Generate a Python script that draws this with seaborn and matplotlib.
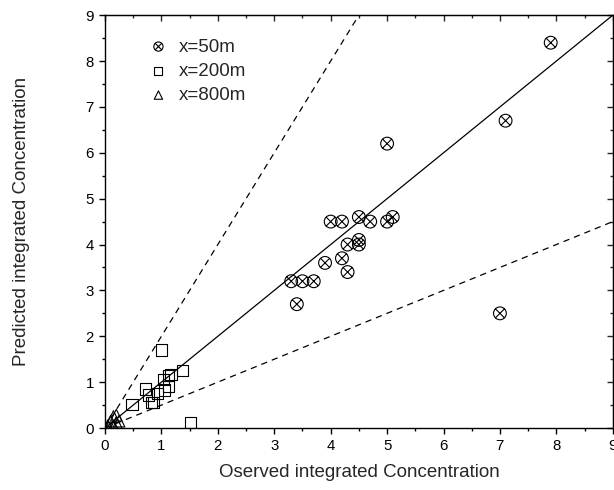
import numpy as np
import pandas as pd
import matplotlib
matplotlib.use("Agg")
import matplotlib.pyplot as plt
from matplotlib.path import Path
from matplotlib.ticker import MultipleLocator
import seaborn as sns

obs_50 = [3.3, 3.5, 3.7, 3.4, 3.9, 4.0, 4.2, 4.2, 4.3, 4.3, 4.5, 4.5, 4.5, 4.7, 5.0, 5.1, 5.0, 7.1, 7.9, 7.0]
pred_50 = [3.2, 3.2, 3.2, 2.7, 3.6, 4.5, 4.5, 3.7, 3.4, 4.0, 4.0, 4.1, 4.6, 4.5, 4.5, 4.6, 6.2, 6.7, 8.4, 2.5]

obs_200 = [1.0, 1.37, 1.17, 1.12, 1.03, 1.12, 1.05, 0.72, 0.93, 0.77, 0.86, 0.83, 0.48, 1.52]
pred_200 = [1.7, 1.25, 1.17, 1.15, 1.06, 0.9, 0.83, 0.85, 0.76, 0.72, 0.56, 0.55, 0.52, 0.12]

obs_800 = [0.05, 0.1, 0.15, 0.2, 0.2, 0.25, 0.15]
pred_800 = [0.05, 0.15, 0.25, 0.28, 0.12, 0.15, 0.05]

line_x = [0, 9]

sns.set_style("ticks")
plt.rcParams["font.family"] = ["Liberation Sans", "DejaVu Sans"]

# circle with a cross inside
circ = Path.unit_circle()
d = 0.707
cross = Path([(-d, -d), (d, d), (-d, d), (d, -d)],
             [Path.MOVETO, Path.LINETO, Path.MOVETO, Path.LINETO])
circ_x = Path.make_compound_path(circ, cross)

fig = plt.figure(figsize=(6.14, 4.9), dpi=100)
ax = fig.add_axes([0.171, 0.1265, 0.827, 0.8425])

df50 = pd.DataFrame({"obs": obs_50, "pred": pred_50})
df200 = pd.DataFrame({"obs": obs_200, "pred": pred_200})
df800 = pd.DataFrame({"obs": obs_800, "pred": pred_800})

sns.scatterplot(data=df50, x="obs", y="pred", ax=ax, marker=circ_x, s=85,
                facecolor="none", edgecolor="black", linewidth=0.8, label="x=50m", zorder=3)
sns.scatterplot(data=df200, x="obs", y="pred", ax=ax, marker="s", s=65,
                facecolor="none", edgecolor="black", linewidth=0.8, label="x=200m", zorder=3)
sns.scatterplot(data=df800, x="obs", y="pred", ax=ax, marker="^", s=70,
                facecolor="none", edgecolor="black", linewidth=0.8, label="x=800m", zorder=3)

lx = np.array(line_x)
ax.plot(lx, lx, color="black", lw=0.9)
ax.plot(lx, 2 * lx, color="black", lw=0.9, ls=(0, (5, 4)))
ax.plot(lx, 0.5 * lx, color="black", lw=0.9, ls=(0, (5, 4)))

ax.set_xlim(0, 9)
ax.set_ylim(0, 9)
ax.xaxis.set_major_locator(MultipleLocator(1))
ax.yaxis.set_major_locator(MultipleLocator(1))
ax.xaxis.set_minor_locator(MultipleLocator(0.5))
ax.yaxis.set_minor_locator(MultipleLocator(0.5))

for s in ax.spines.values():
    s.set_visible(True)
    s.set_linewidth(1.0)
    s.set_color("black")

ax.tick_params(axis="both", which="both", colors="black", labelsize=10.8, width=1.0)
ax.tick_params(which="major", length=4.5)
ax.tick_params(which="minor", length=2.5)
ax.tick_params(axis="x", which="both", direction="out", top=False)
ax.tick_params(axis="y", which="both", direction="out", right=False)

# inward ticks on top and right
sec_x = ax.secondary_xaxis("top")
sec_x.xaxis.set_major_locator(MultipleLocator(1))
sec_x.xaxis.set_minor_locator(MultipleLocator(0.5))
sec_x.tick_params(which="both", direction="in", labeltop=False, width=1.0)
sec_x.tick_params(which="major", length=4.5)
sec_x.tick_params(which="minor", length=2.5)
sec_y = ax.secondary_yaxis("right")
sec_y.yaxis.set_major_locator(MultipleLocator(1))
sec_y.yaxis.set_minor_locator(MultipleLocator(0.5))
sec_y.tick_params(which="both", direction="in", labelright=False, width=1.0)
sec_y.tick_params(which="major", length=4.5)
sec_y.tick_params(which="minor", length=2.5)

ax.set_xlabel("Oserved integrated Concentration", fontsize=13.5)
ax.set_ylabel("Predicted integrated Concentration", fontsize=13.5)
ax.xaxis.set_label_coords(0.5, -0.088)
ax.yaxis.set_label_coords(-0.148, 0.5)

leg = ax.legend(loc="upper left", bbox_to_anchor=(0.072, 0.962), borderaxespad=0,
                frameon=False, fontsize=13.5, handlelength=1.0, handletextpad=0.6,
                labelspacing=0.38, markerscale=0.72)

fig.savefig("out.png", dpi=100)
